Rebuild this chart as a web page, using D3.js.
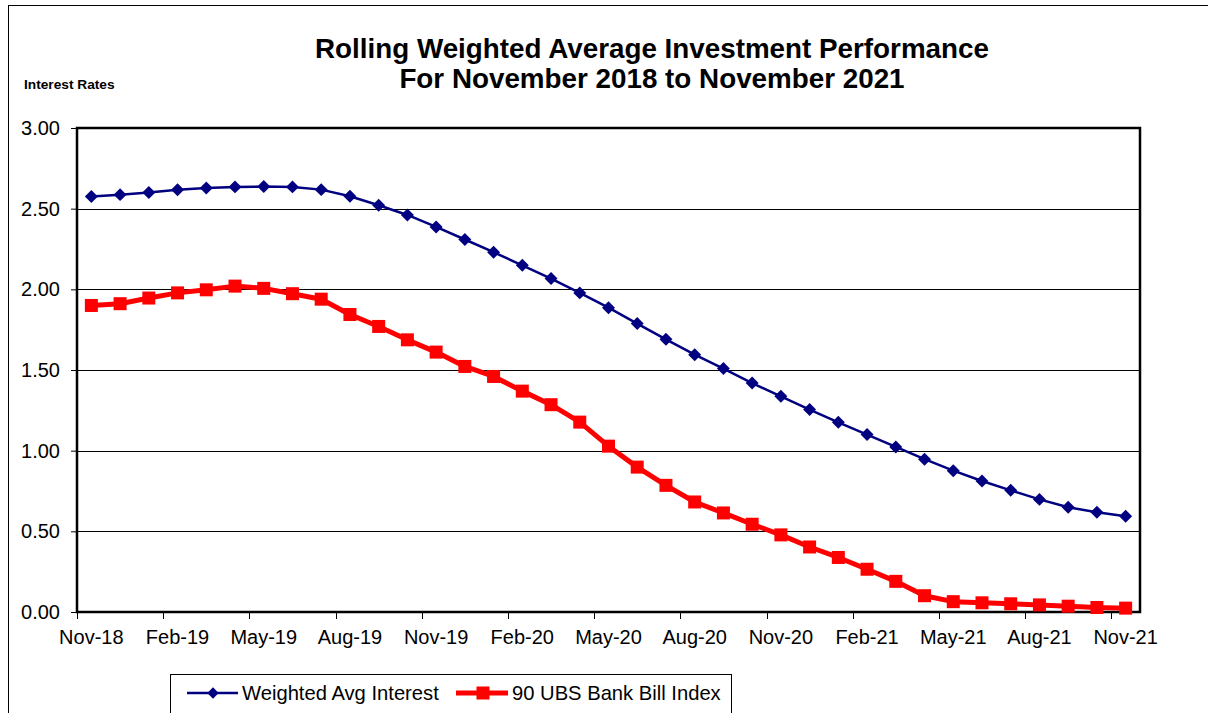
<!DOCTYPE html>
<html>
<head>
<meta charset="utf-8">
<script src="https://cdn.jsdelivr.net/npm/d3@7"></script>
<style>
  html, body { margin: 0; padding: 0; background: #fff; }
  svg { display: block; font-family: Arial, "Liberation Sans", sans-serif; }
</style>
</head>
<body>
<svg id="chart" width="1208" height="713"></svg>
<script>
const months = ["Nov-18","Dec-18","Jan-19","Feb-19","Mar-19","Apr-19","May-19","Jun-19","Jul-19","Aug-19","Sep-19","Oct-19",
  "Nov-19","Dec-19","Jan-20","Feb-20","Mar-20","Apr-20","May-20","Jun-20","Jul-20","Aug-20","Sep-20","Oct-20",
  "Nov-20","Dec-20","Jan-21","Feb-21","Mar-21","Apr-21","May-21","Jun-21","Jul-21","Aug-21","Sep-21","Oct-21","Nov-21"];
const weightedAvg = [2.575, 2.587, 2.60, 2.617, 2.628, 2.635, 2.637, 2.635, 2.618, 2.577, 2.521, 2.461,
  2.387, 2.309, 2.23, 2.149, 2.067, 1.978, 1.886, 1.788, 1.69, 1.595, 1.509, 1.419,
  1.337, 1.255, 1.176, 1.1, 1.023, 0.947, 0.876, 0.812, 0.754, 0.698, 0.649, 0.618, 0.593];
const bankBill = [1.9, 1.911, 1.946, 1.978, 1.997, 2.02, 2.006, 1.973, 1.939, 1.844, 1.77, 1.687,
  1.611, 1.522, 1.46, 1.369, 1.285, 1.177, 1.028, 0.898, 0.785, 0.682, 0.614, 0.544,
  0.478, 0.403, 0.338, 0.265, 0.19, 0.101, 0.064, 0.057, 0.051, 0.044, 0.036, 0.028, 0.024];
const xTickLabels = ["Nov-18","Feb-19","May-19","Aug-19","Nov-19","Feb-20","May-20","Aug-20","Nov-20","Feb-21","May-21","Aug-21","Nov-21"];
const yTicks = [0, 0.5, 1.0, 1.5, 2.0, 2.5, 3.0];
const seriesNames = ["Weighted Avg Interest", "90 UBS Bank Bill Index"];
const titleLines = ["Rolling Weighted Average Investment Performance", "For November 2018 to November 2021"];
const yAxisTitle = "Interest Rates";

const svg = d3.select("#chart");
const plot = { left: 77, right: 1140, top: 128, bottom: 612 };

// outer frame
svg.append("rect").attr("x", 8.5).attr("y", 5.5).attr("width", 1240).attr("height", 760)
  .attr("fill", "none").attr("stroke", "#000").attr("stroke-width", 1);

const x = d3.scaleBand().domain(months).range([plot.left, plot.right]).padding(0);
const y = d3.scaleLinear().domain([0, 3]).range([plot.bottom, plot.top]);
const cx = d => x(d) + x.bandwidth() / 2;

// title
svg.append("text").attr("x", 652).attr("y", 58).attr("text-anchor", "middle")
  .attr("font-size", 27.8).attr("font-weight", "bold").text(titleLines[0]);
svg.append("text").attr("x", 652).attr("y", 88).attr("text-anchor", "middle")
  .attr("font-size", 27.8).attr("font-weight", "bold").text(titleLines[1]);
svg.append("text").attr("x", 24).attr("y", 89)
  .attr("font-size", 13.7).attr("font-weight", "bold").text(yAxisTitle);

// gridlines
svg.append("g").selectAll("line").data(yTicks.filter(v => v > 0 && v < 3)).join("line")
  .attr("x1", plot.left).attr("x2", plot.right)
  .attr("y1", d => Math.round(y(d)) + 0.5).attr("y2", d => Math.round(y(d)) + 0.5)
  .attr("stroke", "#000").attr("stroke-width", 1);

// y axis
const yAxis = svg.append("g").attr("transform", `translate(${plot.left},0)`)
  .call(d3.axisLeft(y).tickValues(yTicks).tickFormat(d3.format(".2f")).tickSize(6).tickPadding(11));
yAxis.select(".domain").remove();
yAxis.selectAll(".tick line").attr("stroke", "#000");
yAxis.selectAll(".tick text").attr("font-size", 20).attr("fill", "#000")
  .attr("font-family", "Arial, 'Liberation Sans', sans-serif");

// x axis: labels at category centres, ticks at category boundaries
const labelled = months.filter(m => xTickLabels.includes(m));
svg.append("g").selectAll("line").data(labelled).join("line")
  .attr("x1", d => Math.round(x(d)) + 0.5).attr("x2", d => Math.round(x(d)) + 0.5)
  .attr("y1", plot.bottom).attr("y2", plot.bottom + 7)
  .attr("stroke", "#000").attr("stroke-width", 1);
svg.append("g").selectAll("text").data(labelled).join("text")
  .attr("x", d => cx(d)).attr("y", plot.bottom + 32)
  .attr("text-anchor", "middle").attr("font-size", 20).text(d => d);

// plot border
svg.append("rect").attr("x", plot.left).attr("y", plot.top)
  .attr("width", plot.right - plot.left).attr("height", plot.bottom - plot.top)
  .attr("fill", "none").attr("stroke", "#000").attr("stroke-width", 2.5);

// series
const line = d3.line().x((d, i) => cx(months[i])).y(d => y(d));

svg.append("path").datum(weightedAvg).attr("d", line)
  .attr("fill", "none").attr("stroke", "#000080").attr("stroke-width", 2.5);
svg.append("g").selectAll("path").data(weightedAvg).join("path")
  .attr("d", d3.symbol().type(d3.symbolSquare).size(84)())
  .attr("transform", (d, i) => `translate(${cx(months[i])},${y(d)}) rotate(45)`)
  .attr("fill", "#000080");

svg.append("path").datum(bankBill).attr("d", line)
  .attr("fill", "none").attr("stroke", "#ff0000").attr("stroke-width", 5).attr("stroke-linejoin", "round");
svg.append("g").selectAll("rect").data(bankBill).join("rect")
  .attr("x", (d, i) => cx(months[i]) - 6.5).attr("y", d => y(d) - 6.5)
  .attr("width", 13).attr("height", 13).attr("fill", "#ff0000");

// legend
const lg = svg.append("g");
lg.append("rect").attr("x", 170.5).attr("y", 674.5).attr("width", 561).attr("height", 60)
  .attr("fill", "#fff").attr("stroke", "#000").attr("stroke-width", 1);
const ly = 693;
lg.append("line").attr("x1", 187).attr("x2", 238).attr("y1", ly).attr("y2", ly)
  .attr("stroke", "#000080").attr("stroke-width", 2.5);
lg.append("path").attr("d", d3.symbol().type(d3.symbolSquare).size(64)())
  .attr("transform", `translate(213,${ly}) rotate(45)`).attr("fill", "#000080");
lg.append("text").attr("x", 242).attr("y", ly + 7).attr("font-size", 20.2).text(seriesNames[0]);
lg.append("line").attr("x1", 456).attr("x2", 508).attr("y1", ly).attr("y2", ly)
  .attr("stroke", "#ff0000").attr("stroke-width", 5);
lg.append("rect").attr("x", 483 - 6.5).attr("y", ly - 6.5).attr("width", 13).attr("height", 13).attr("fill", "#ff0000");
lg.append("text").attr("x", 512).attr("y", ly + 7).attr("font-size", 20.2).text(seriesNames[1]);
</script>
</body>
</html>
